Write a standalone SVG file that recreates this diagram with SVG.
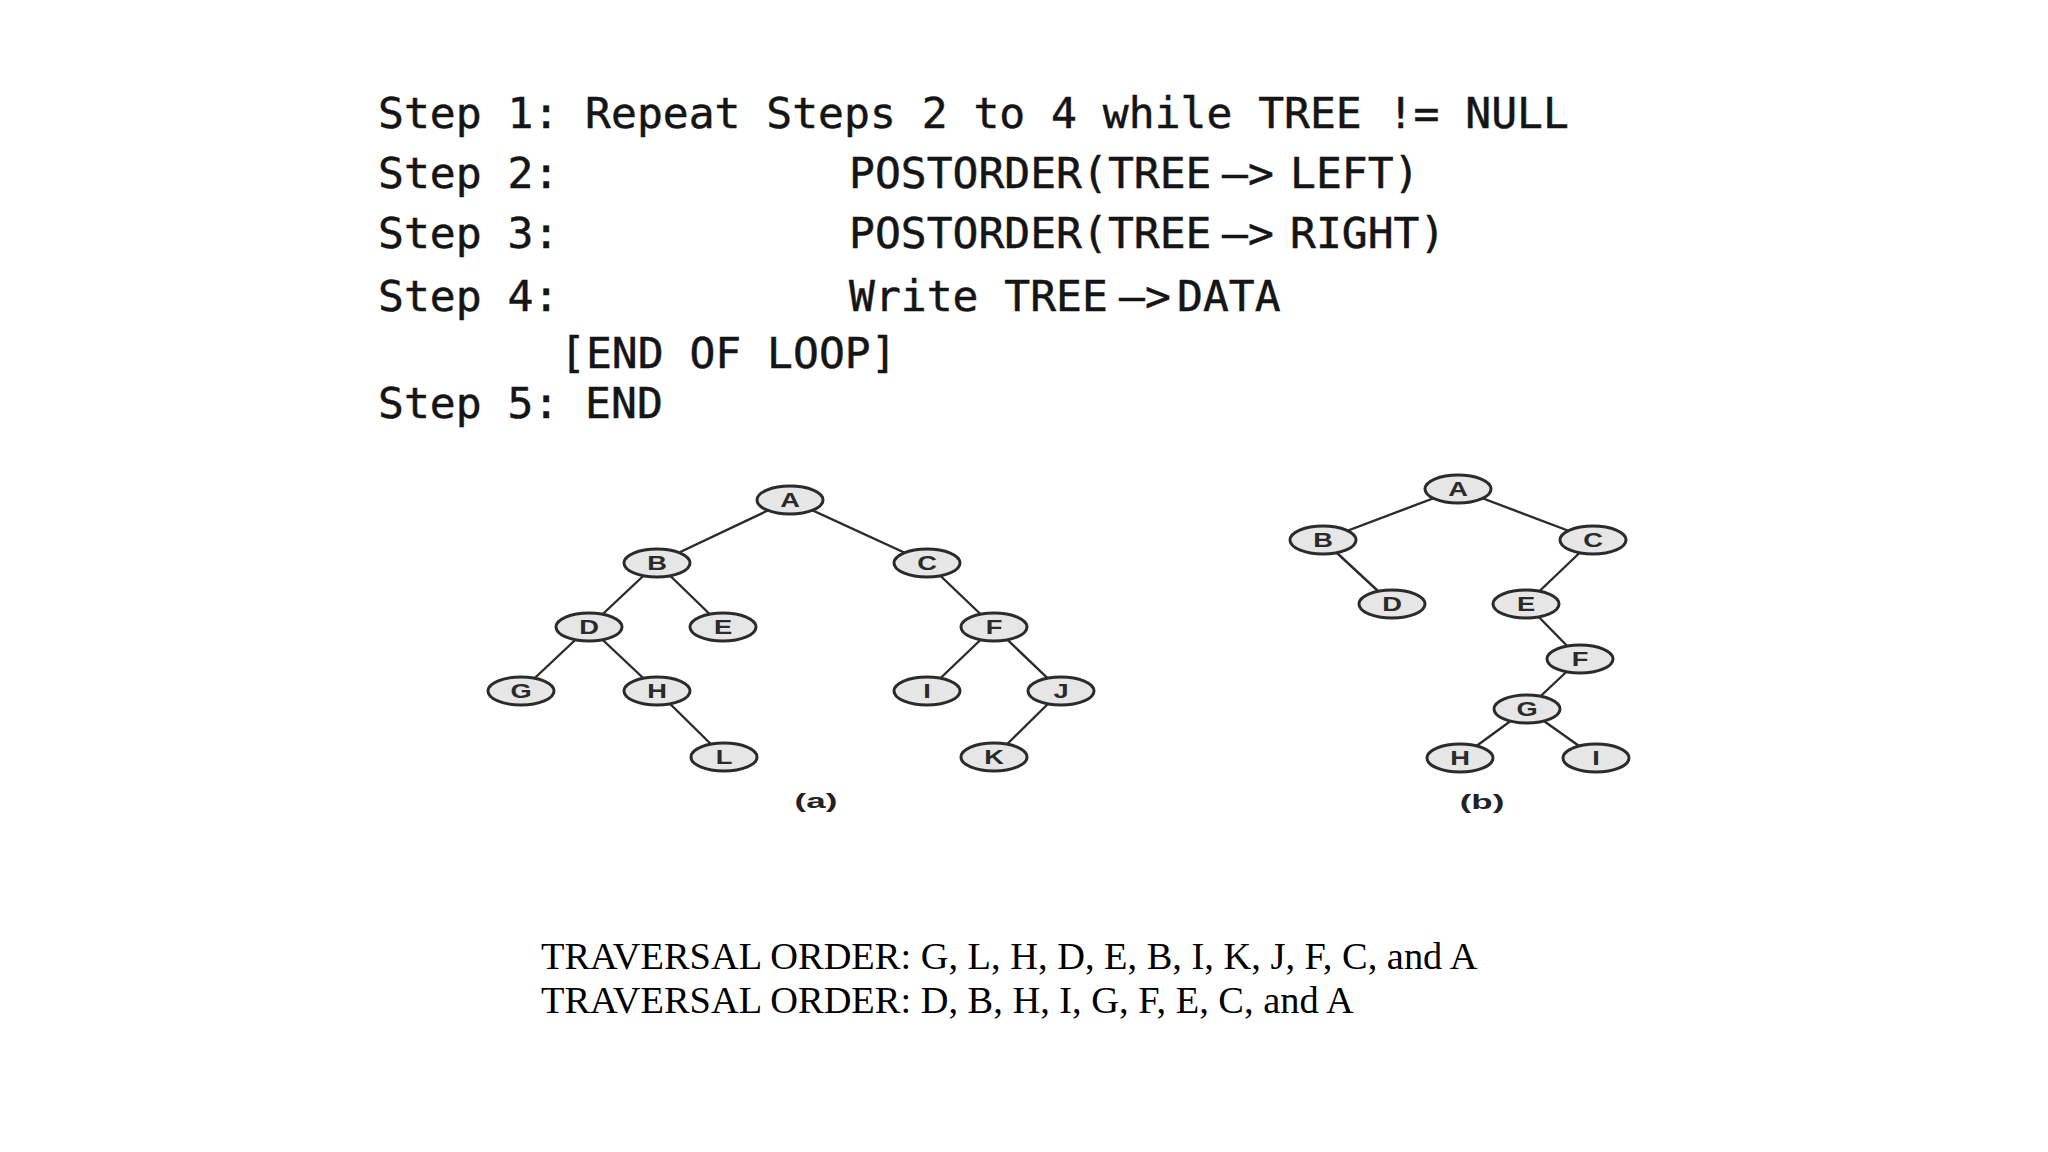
<svg xmlns="http://www.w3.org/2000/svg" width="2048" height="1152" viewBox="0 0 2048 1152">
<style>
.code{font-family:"DejaVu Sans Mono","Liberation Mono",monospace;font-size:43px;fill:#151515;stroke:#151515;stroke-width:0.5}
.ord{font-family:"Liberation Serif","Times New Roman",serif;font-size:38.4px;fill:#000}
.nd ellipse{fill:#e6e6e6;stroke:#2b2b2b;stroke-width:3}
.nd text{font-family:"Liberation Sans",Arial,sans-serif;font-size:19.5px;font-weight:bold;fill:#2a2a2a;text-anchor:middle}
.cap{font-family:"Liberation Sans",Arial,sans-serif;font-size:20px;font-weight:bold;fill:#222;text-anchor:middle}
.edges line{stroke:#2b2b2b;stroke-width:2.4}
</style>
<rect width="2048" height="1152" fill="#fff"/>
<g id="algorithm">
<text class="code" x="378" y="128">Step 1: Repeat Steps 2 to 4 while TREE != NULL</text>
<text class="code" x="378" y="188">Step 2:</text>
<text class="code" x="849" y="188">POSTORDER(TREE</text>
<text class="code" x="1222" y="188">–&gt;</text>
<text class="code" x="1290" y="188">LEFT)</text>
<text class="code" x="378" y="248">Step 3:</text>
<text class="code" x="849" y="248">POSTORDER(TREE</text>
<text class="code" x="1222" y="248">–&gt;</text>
<text class="code" x="1290" y="248">RIGHT)</text>
<text class="code" x="378" y="311">Step 4:</text>
<text class="code" x="849" y="311">Write TREE</text>
<text class="code" x="1119" y="311">–&gt;</text>
<text class="code" x="1177" y="311">DATA</text>
<text class="code" x="560" y="368">[END OF LOOP]</text>
<text class="code" x="378" y="418">Step 5: END</text>
</g>
<g id="connectors" class="edges">
<line x1="790" y1="500" x2="657" y2="563"/>
<line x1="790" y1="500" x2="927" y2="563"/>
<line x1="657" y1="563" x2="589" y2="627"/>
<line x1="657" y1="563" x2="723" y2="627"/>
<line x1="927" y1="563" x2="994" y2="627"/>
<line x1="589" y1="627" x2="521" y2="691"/>
<line x1="589" y1="627" x2="657" y2="691"/>
<line x1="657" y1="691" x2="724" y2="757"/>
<line x1="994" y1="627" x2="927" y2="691"/>
<line x1="994" y1="627" x2="1061" y2="691"/>
<line x1="1061" y1="691" x2="994" y2="757"/>
<line x1="1458" y1="489" x2="1323" y2="540"/>
<line x1="1458" y1="489" x2="1593" y2="540"/>
<line x1="1323" y1="540" x2="1392" y2="604"/>
<line x1="1593" y1="540" x2="1526" y2="604"/>
<line x1="1526" y1="604" x2="1580" y2="659"/>
<line x1="1580" y1="659" x2="1527" y2="709"/>
<line x1="1527" y1="709" x2="1460" y2="758"/>
<line x1="1527" y1="709" x2="1596" y2="758"/>
</g>
<g id="tree-a">
<g id="a-A" class="nd"><ellipse cx="790" cy="500" rx="33" ry="14"/><text transform="translate(790 507) scale(1.4 1)">A</text></g>
<g id="a-B" class="nd"><ellipse cx="657" cy="563" rx="33" ry="14"/><text transform="translate(657 570) scale(1.4 1)">B</text></g>
<g id="a-C" class="nd"><ellipse cx="927" cy="563" rx="33" ry="14"/><text transform="translate(927 570) scale(1.4 1)">C</text></g>
<g id="a-D" class="nd"><ellipse cx="589" cy="627" rx="33" ry="14"/><text transform="translate(589 634) scale(1.4 1)">D</text></g>
<g id="a-E" class="nd"><ellipse cx="723" cy="627" rx="33" ry="14"/><text transform="translate(723 634) scale(1.4 1)">E</text></g>
<g id="a-F" class="nd"><ellipse cx="994" cy="627" rx="33" ry="14"/><text transform="translate(994 634) scale(1.4 1)">F</text></g>
<g id="a-G" class="nd"><ellipse cx="521" cy="691" rx="33" ry="14"/><text transform="translate(521 698) scale(1.4 1)">G</text></g>
<g id="a-H" class="nd"><ellipse cx="657" cy="691" rx="33" ry="14"/><text transform="translate(657 698) scale(1.4 1)">H</text></g>
<g id="a-I" class="nd"><ellipse cx="927" cy="691" rx="33" ry="14"/><text transform="translate(927 698) scale(1.4 1)">I</text></g>
<g id="a-J" class="nd"><ellipse cx="1061" cy="691" rx="33" ry="14"/><text transform="translate(1061 698) scale(1.4 1)">J</text></g>
<g id="a-L" class="nd"><ellipse cx="724" cy="757" rx="33" ry="14"/><text transform="translate(724 764) scale(1.4 1)">L</text></g>
<g id="a-K" class="nd"><ellipse cx="994" cy="757" rx="33" ry="14"/><text transform="translate(994 764) scale(1.4 1)">K</text></g>
<text id="label-a" class="cap" transform="translate(816 808) scale(1.75 1)">(a)</text>
</g>
<g id="tree-b">
<g id="b-A" class="nd"><ellipse cx="1458" cy="489" rx="33" ry="14"/><text transform="translate(1458 496) scale(1.4 1)">A</text></g>
<g id="b-B" class="nd"><ellipse cx="1323" cy="540" rx="33" ry="14"/><text transform="translate(1323 547) scale(1.4 1)">B</text></g>
<g id="b-C" class="nd"><ellipse cx="1593" cy="540" rx="33" ry="14"/><text transform="translate(1593 547) scale(1.4 1)">C</text></g>
<g id="b-D" class="nd"><ellipse cx="1392" cy="604" rx="33" ry="14"/><text transform="translate(1392 611) scale(1.4 1)">D</text></g>
<g id="b-E" class="nd"><ellipse cx="1526" cy="604" rx="33" ry="14"/><text transform="translate(1526 611) scale(1.4 1)">E</text></g>
<g id="b-F" class="nd"><ellipse cx="1580" cy="659" rx="33" ry="14"/><text transform="translate(1580 666) scale(1.4 1)">F</text></g>
<g id="b-G" class="nd"><ellipse cx="1527" cy="709" rx="33" ry="14"/><text transform="translate(1527 716) scale(1.4 1)">G</text></g>
<g id="b-H" class="nd"><ellipse cx="1460" cy="758" rx="33" ry="14"/><text transform="translate(1460 765) scale(1.4 1)">H</text></g>
<g id="b-I" class="nd"><ellipse cx="1596" cy="758" rx="33" ry="14"/><text transform="translate(1596 765) scale(1.4 1)">I</text></g>
<text id="label-b" class="cap" transform="translate(1482 809) scale(1.75 1)">(b)</text>
</g>
<g id="traversal">
<text class="ord" x="541" y="969">TRAVERSAL ORDER: G, L, H, D, E, B, I, K, J, F, C, and A</text>
<text class="ord" x="541" y="1013">TRAVERSAL ORDER: D, B, H, I, G, F, E, C, and A</text>
</g>
</svg>
